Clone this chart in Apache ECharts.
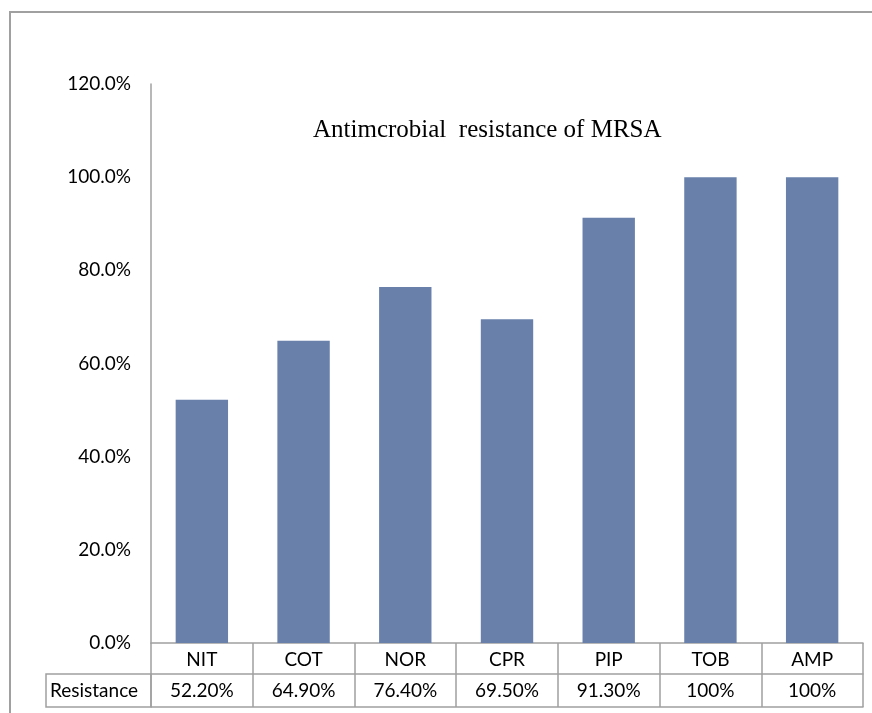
<!DOCTYPE html>
<html>
<head>
<meta charset="utf-8">
<script src="https://cdn.jsdelivr.net/npm/echarts@6/dist/echarts.min.js"></script>
<style>
  html, body { margin: 0; padding: 0; background: #fff; }
  #chart { width: 872px; height: 713px; }
</style>
</head>
<body>
<div id="chart"></div>
<script>
const categories = ['NIT', 'COT', 'NOR', 'CPR', 'PIP', 'TOB', 'AMP']
const resistance = [52.2, 64.9, 76.4, 69.5, 91.3, 100, 100]
const tableLabels = ['52.20%', '64.90%', '76.40%', '69.50%', '91.30%', '100%', '100%']
const rowName = 'Resistance'

const gridColor = '#a0a0a0'
const labelFont = 'Lato, "Open Sans", sans-serif'
const labelSize = 19

let myChart = echarts.init(document.getElementById('chart'))

// table rows: header row 31px, value row 33px
const row1 = 31
const row2 = 33

let option = {
    animation: false,
    backgroundColor: '#fff',
    title: {
        text: 'Antimcrobial  resistance of MRSA',
        left: 308,
        top: 113,
        textStyle: {
            fontFamily: '"Liberation Serif", "DejaVu Serif", serif',
            fontSize: 25,
            fontWeight: 'normal',
            color: '#000'
        }
    },
    grid: {
        left: 151,
        right: 9,
        top: 84,
        bottom: 70
    },
    xAxis: [
        {
            type: 'category',
            data: categories,
            position: 'bottom',
            axisLine: { show: true, lineStyle: { color: gridColor, width: 1.5 } },
            axisTick: { show: true, length: row1, lineStyle: { color: gridColor, width: 1.5 } },
            axisLabel: {
                margin: 7,
                fontFamily: labelFont,
                fontSize: labelSize,
                color: '#000'
            },
            splitLine: { show: false }
        },
        {
            type: 'category',
            data: tableLabels,
            position: 'bottom',
            offset: row1,
            axisLine: { show: true, lineStyle: { color: gridColor, width: 1.5 } },
            axisTick: { show: true, length: row2, lineStyle: { color: gridColor, width: 1.5 } },
            axisLabel: {
                margin: 7,
                fontFamily: labelFont,
                fontSize: labelSize,
                color: '#000'
            },
            splitLine: { show: false }
        },
        {
            type: 'category',
            data: categories,
            position: 'bottom',
            offset: row1 + row2,
            axisLine: { show: true, lineStyle: { color: gridColor, width: 1.5 } },
            axisTick: { show: false },
            axisLabel: { show: false },
            splitLine: { show: false }
        }
    ],
    yAxis: {
        type: 'value',
        min: 0,
        max: 120,
        interval: 20,
        axisLine: { show: true, lineStyle: { color: gridColor, width: 1.5 } },
        axisTick: { show: false },
        splitLine: { show: false },
        axisLabel: {
            margin: 20,
            fontFamily: labelFont,
            fontSize: labelSize,
            color: '#000',
            formatter: v => v.toFixed(1) + '%'
        }
    },
    series: [
        {
            type: 'bar',
            data: resistance,
            barWidth: '51.5%',
            itemStyle: { color: '#6880AA' }
        }
    ],
    graphic: [
        // outer chart border (runs off the right and bottom)
        {
            type: 'rect',
            shape: { x: 10, y: 12, width: 900, height: 800 },
            style: { fill: 'none', stroke: gridColor, lineWidth: 2 },
            silent: true
        },
        // row-name cell of the data table
        {
            type: 'rect',
            shape: { x: 46, y: 643 + row1, width: 105, height: row2 },
            style: { fill: 'none', stroke: gridColor, lineWidth: 1.5 },
            silent: true
        },
        {
            type: 'text',
            x: 94,
            y: 643 + row1 + row2 / 2,
            style: {
                text: rowName,
                fontFamily: labelFont,
                fontSize: labelSize,
                fill: '#000',
                align: 'center',
                verticalAlign: 'middle'
            },
            silent: true
        }
    ]
}

option && myChart.setOption(option)
</script>
</body>
</html>
